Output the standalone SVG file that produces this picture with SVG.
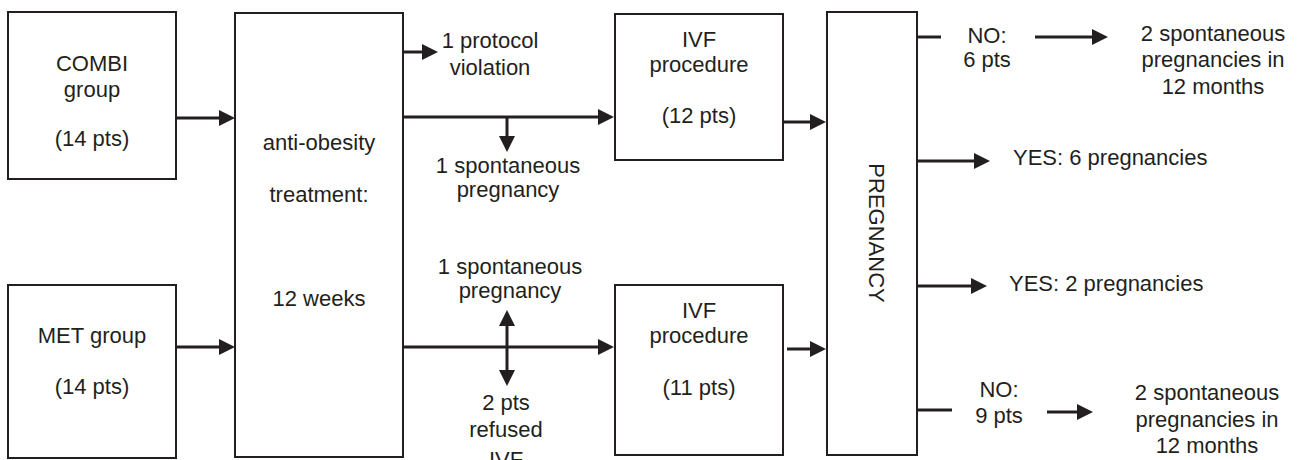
<svg xmlns="http://www.w3.org/2000/svg" width="1298" height="460" viewBox="0 0 1298 460">
<style>
.box{fill:#fff;stroke:#231f20;stroke-width:2}
.t{font-family:"Liberation Sans",Arial,sans-serif;font-size:22px;fill:#231f20}
.m{text-anchor:middle}
.c line{stroke:#231f20;stroke-width:3}
</style>
<defs>
<marker id="ah" markerUnits="userSpaceOnUse" markerWidth="17" markerHeight="16" refX="12" refY="8" orient="auto-start-reverse" viewBox="0 0 17 16">
<path d="M0,0 L16,8 L0,16 z" fill="#231f20"/>
</marker>
</defs>
<rect width="1298" height="460" fill="#fff"/>
<g id="combi">
<rect class="box" x="8" y="12" width="168" height="167"/>
<text class="t m" x="92" y="71">COMBI</text>
<text class="t m" x="92" y="97">group</text>
<text class="t m" x="92" y="146">(14 pts)</text>
</g>
<g id="met">
<rect class="box" x="8" y="285" width="168" height="173"/>
<text class="t m" x="92" y="343">MET group</text>
<text class="t m" x="92" y="394">(14 pts)</text>
</g>
<g id="treatment">
<rect class="box" x="235" y="13" width="168" height="444"/>
<text class="t m" x="319" y="150">anti-obesity</text>
<text class="t m" x="319" y="202">treatment:</text>
<text class="t m" x="319" y="306">12 weeks</text>
</g>
<g id="ivf1">
<rect class="box" x="615" y="14" width="168" height="146"/>
<text class="t m" x="699" y="47">IVF</text>
<text class="t m" x="699" y="72">procedure</text>
<text class="t m" x="699" y="123">(12 pts)</text>
</g>
<g id="ivf2">
<rect class="box" x="615" y="285" width="168" height="170"/>
<text class="t m" x="699" y="318">IVF</text>
<text class="t m" x="699" y="343">procedure</text>
<text class="t m" x="699" y="395">(11 pts)</text>
</g>
<g id="pregnancy">
<rect class="box" x="827" y="12" width="90" height="443"/>
<text class="t m" transform="translate(869,233) rotate(90)" x="0" y="0">PREGNANCY</text>
</g>
<g id="labels">
<text class="t m" x="490" y="48">1 protocol</text>
<text class="t m" x="490" y="75">violation</text>
<text class="t m" x="508" y="173">1 spontaneous</text>
<text class="t m" x="508" y="197">pregnancy</text>
<text class="t m" x="510" y="274">1 spontaneous</text>
<text class="t m" x="510" y="298">pregnancy</text>
<text class="t m" x="506" y="410">2 pts</text>
<text class="t m" x="506" y="437">refused</text>
<text class="t m" x="506" y="467">IVF</text>
<text class="t m" x="987" y="43">NO:</text>
<text class="t m" x="987" y="67">6 pts</text>
<text class="t m" x="1213" y="41">2 spontaneous</text>
<text class="t m" x="1213" y="67">pregnancies in</text>
<text class="t m" x="1213" y="94">12 months</text>
<text class="t" x="1013" y="165">YES: 6 pregnancies</text>
<text class="t" x="1009" y="291">YES: 2 pregnancies</text>
<text class="t m" x="999" y="397">NO:</text>
<text class="t m" x="999" y="423">9 pts</text>
<text class="t m" x="1207" y="400">2 spontaneous</text>
<text class="t m" x="1207" y="427">pregnancies in</text>
<text class="t m" x="1207" y="453">12 months</text>
</g>
<g id="connectors" class="c">
<line x1="176" y1="118" x2="231" y2="118" marker-end="url(#ah)"/>
<line x1="176" y1="347" x2="231" y2="347" marker-end="url(#ah)"/>
<line x1="403" y1="52" x2="434" y2="52" marker-end="url(#ah)"/>
<line x1="403" y1="117" x2="610" y2="117" marker-end="url(#ah)"/>
<line x1="507" y1="117" x2="507" y2="148" marker-end="url(#ah)"/>
<line x1="403" y1="347" x2="610" y2="347" marker-end="url(#ah)"/>
<line x1="507" y1="314" x2="507" y2="382" marker-start="url(#ah)" marker-end="url(#ah)"/>
<line x1="783" y1="122" x2="822" y2="122" marker-end="url(#ah)"/>
<line x1="787" y1="349" x2="822" y2="349" marker-end="url(#ah)"/>
<line x1="917" y1="37" x2="941" y2="37"/>
<line x1="1035" y1="37" x2="1104" y2="37" marker-end="url(#ah)"/>
<line x1="917" y1="161" x2="986" y2="161" marker-end="url(#ah)"/>
<line x1="917" y1="286" x2="983" y2="286" marker-end="url(#ah)"/>
<line x1="917" y1="410" x2="952" y2="410"/>
<line x1="1047" y1="412" x2="1089" y2="412" marker-end="url(#ah)"/>
</g>
</svg>
